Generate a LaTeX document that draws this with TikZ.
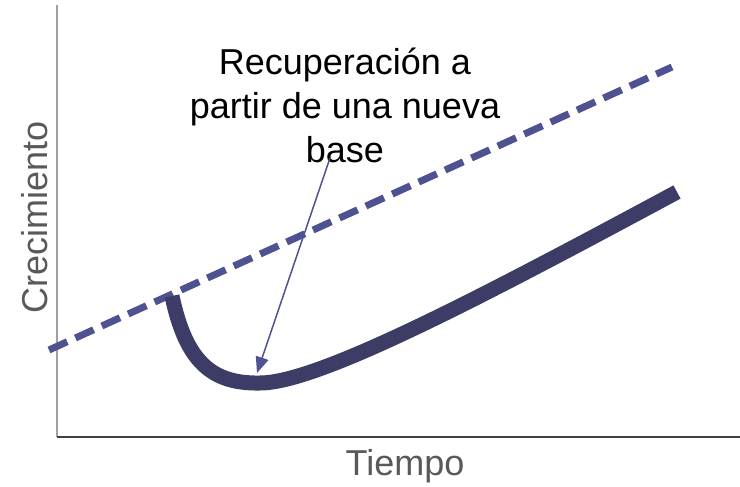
\documentclass[tikz,border=0pt]{standalone}
\usepackage{fontspec}
\setmainfont{Liberation Sans}
\usetikzlibrary{arrows.meta}
\definecolor{dashblue}{HTML}{4F5290}
\definecolor{curvedark}{HTML}{3D3C66}
\definecolor{labelgray}{HTML}{595959}
\definecolor{yaxisgray}{HTML}{A0A0A0}
\definecolor{xaxisgray}{HTML}{404040}
\tikzset{
  axislabel/.style={text=labelgray, font=\fontsize{36}{42}\selectfont, inner sep=0pt},
  annot/.style={text=black, font=\fontsize{36}{44}\selectfont, align=center, inner sep=0pt},
  newbase/.style={draw=dashblue, line width=7pt, dash pattern=on 20pt off 9pt},
  recovery/.style={draw=curvedark, line width=15pt},
  pointer/.style={draw=dashblue, line width=1.5pt, -{Triangle[length=16pt,width=13pt]}},
}
\begin{document}
\begin{tikzpicture}[x=1pt,y=-1pt]
\useasboundingbox (0,0) rectangle (740,487);
% axes
\coordinate (yTop) at (57,5);
\coordinate (origin) at (57,437);
\coordinate (xEnd) at (740,437);
\draw[yaxisgray, line width=1.5pt] (yTop) -- (origin);
\draw[xaxisgray, line width=2pt] (origin) -- (xEnd);
% axis labels
\node[axislabel, rotate=90, anchor=base] (ylab) at (47,217) {Crecimiento};
\node[axislabel, anchor=base] (xlab) at (405,475) {Tiempo};
% dashed new-base line
\coordinate (dStart) at (49,350);
\coordinate (dEnd) at (672,67);
\draw[newbase] (dStart) -- (dEnd);
% recovery curve
\coordinate (cStart) at (172,296);
\coordinate (cMin) at (260,383);
\coordinate (cEnd) at (677,192);
\draw[recovery] (cStart) .. controls (186,362) and (212,384) .. (cMin)
  .. controls (318,383) and (480,298) .. (cEnd);
% annotation
\node[annot, anchor=base] (label) at (345,162) {Recuperación a\\partir de una nueva\\base};
\coordinate (aStart) at (330,158);
\coordinate (aEnd) at (257,373);
\draw[pointer] (aStart) -- (aEnd);
\end{tikzpicture}
\end{document}
